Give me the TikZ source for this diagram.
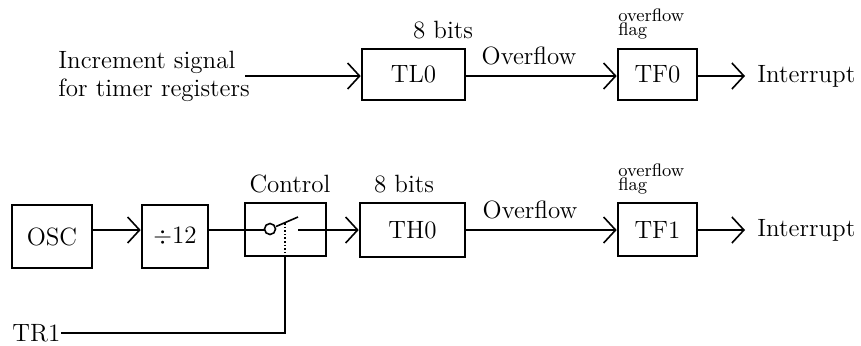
\documentclass[tikz,border=0pt]{standalone}
\usetikzlibrary{arrows.meta}

\tikzset{
  reg/.style={draw, line width=1.3pt, inner sep=0pt, font=\fontsize{12.5}{14}\selectfont},
  sig/.style={line width=0.8pt, -{Straight Barb[length=6pt,width=13pt,line width=0.8pt]}},
  wire/.style={line width=0.8pt},
  lbl/.style={inner sep=0pt, font=\fontsize{12.5}{14}\selectfont},
  flagtxt/.style={inner sep=0pt, align=left, font=\fontsize{9}{6}\selectfont},
}

\begin{document}
\begin{tikzpicture}[x=0.5pt, y=-0.5pt]
  \useasboundingbox (0,0) rectangle (861,345);

  % timer 0: low byte
  \node[lbl, align=left, anchor=west] (inc) at (58,76) {Increment signal\\for timer registers};
  \node[reg, minimum width=51.5pt, minimum height=25.5pt] (tl0) at (413.5,74.5) {TL0};
  \node[reg, minimum width=39.5pt, minimum height=25.5pt] (tf0) at (657.5,74.5) {TF0};
  \node[lbl] (bits0) at (443,30) {8 bits};
  \node[lbl] (ovf0) at (529,56) {Overflow};
  \node[flagtxt, anchor=south west] (flag0) at (618,40) {overflow\\flag};
  \node[lbl, anchor=west] (int0) at (757,76) {Interrupt};
  \coordinate (inc0) at (245,76);
  \draw[sig] (inc0) -- (tl0.west |- inc0);
  \draw[sig] (tl0.east |- inc0) -- (tf0.west |- inc0);
  \draw[sig, shorten >=6pt] (tf0.east |- inc0) -- (int0.west);

  % timer 1 with gate
  \node[reg, minimum width=40pt, minimum height=31.5pt] (osc) at (52,236.5) {OSC};
  \node[reg, minimum width=33pt, minimum height=31.5pt] (div) at (175,236.5) {$\div$12};
  \node[reg, minimum width=40.5pt, minimum height=26.5pt] (ctl) at (285.5,229.5) {};
  \node[reg, minimum width=52.5pt, minimum height=27pt] (th0) at (412.5,230) {TH0};
  \node[reg, minimum width=39.5pt, minimum height=26.5pt] (tf1) at (657.5,229.5) {TF1};
  \node[lbl] (ctltxt) at (290,184) {Control};
  \node[lbl] (bits1) at (404,184) {8 bits};
  \node[lbl] (ovf1) at (530,210) {Overflow};
  \node[flagtxt, anchor=south west] (flag1) at (618,195) {overflow\\flag};
  \node[lbl, anchor=west] (int1) at (757,230) {Interrupt};
  \node[lbl, anchor=west] (tr1) at (12,333) {TR1};

  % switch inside the control box
  \coordinate (pivot) at (270,229);
  \coordinate (tip) at (298,217);
  \coordinate (out) at (298,230);
  \coordinate (lever) at (285,223);
  \coordinate (bend) at (285,333);
  \draw[wire] (pivot) circle [radius=5.5];
  \draw[wire] (276,226.5) -- (tip);
  \draw[sig] (osc.east |- 0,230) -- (div.west |- 0,230);
  \draw[wire] (div.east |- 0,230) -- (264.5,230);
  \draw[sig] (out) -- (th0.west |- out);
  \draw[wire, densely dotted] (lever) -- (lever |- ctl.south);
  \draw[wire] (lever |- ctl.south) -- (bend) -- (tr1.east);

  \draw[sig] (th0.east |- out) -- (tf1.west |- out);
  \draw[sig, shorten >=6pt] (tf1.east |- out) -- (int1.west);
\end{tikzpicture}
\end{document}
